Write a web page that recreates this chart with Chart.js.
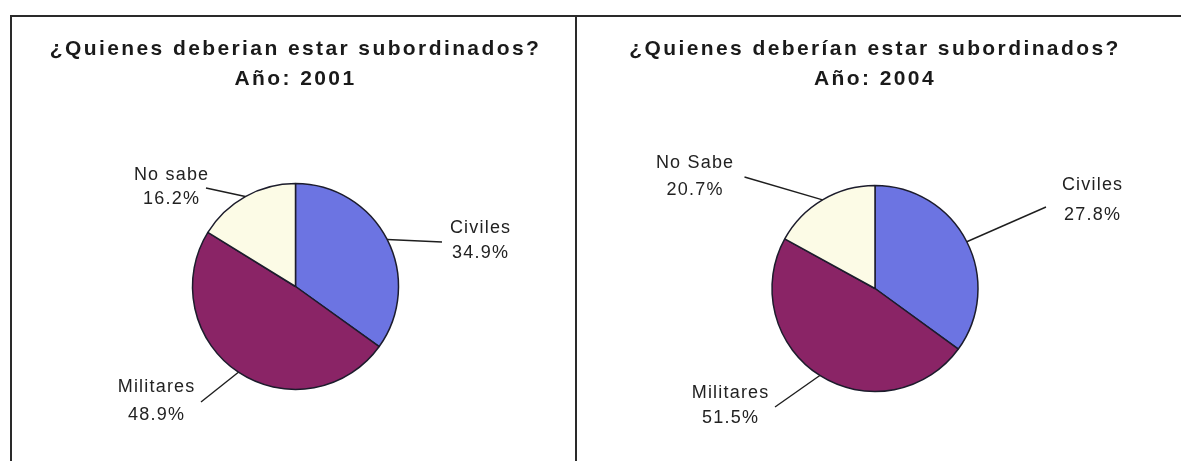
<!DOCTYPE html>
<html>
<head>
<meta charset="utf-8">
<script src="https://cdn.jsdelivr.net/npm/chart.js@4/dist/chart.umd.min.js"></script>
<style>
  html, body { margin: 0; padding: 0; background: #fff; }
  body { width: 1181px; height: 461px; position: relative; overflow: hidden; }
  canvas { position: absolute; top: 0; }
  .rule { position: absolute; background: #2a2a2a; }
</style>
</head>
<body>
<div class="rule" style="left:10px;top:15px;width:1171px;height:2px"></div>
<div class="rule" style="left:10px;top:15px;width:2px;height:446px"></div>
<div class="rule" style="left:575px;top:15px;width:2px;height:446px"></div>
<canvas id="c2001" width="561" height="461" style="left:15px"></canvas>
<canvas id="c2004" width="560" height="461" style="left:595px"></canvas>
<script>
// data
const names2001 = ["Civiles", "Militares", "No sabe"];
const names2004 = ["Civiles", "Militares", "No Sabe"];
const pct2001 = [34.9, 48.9, 16.2];
const pct2004 = [27.8, 51.5, 20.7];
// the 2004 pie in the source is drawn with about the same wedges as 2001,
// not with its printed percentages, so keep the drawn shares separately
const shares2004 = [35, 48, 17];

const colors = ["#6c74e2", "#8a2466", "#fcfbe6"];
const fontFamily = "'Liberation Sans', Arial, Helvetica, sans-serif";

// callout placement, offsets from the pie centre: text [x, y line1, y line2], line end [x, y]
const callouts2001 = [
  { text: [184.5, -58.5, -33.5], line: [146.5, -44.5] },
  { text: [-139.5, 100.5, 128.5], line: [-94.5, 115.5] },
  { text: [-124.5, -111.5, -87.5], line: [-89.5, -98.5] },
];
const callouts2004 = [
  { text: [217, -103.5, -73.5], line: [171, -81.5] },
  { text: [-145, 104.5, 129.5], line: [-100, 118.5] },
  { text: [-180.5, -125.5, -98.5], line: [-130.5, -111.5] },
];

// wide letter spacing on the titles
const spacingPlugin = {
  id: "spacing",
  beforeDraw(chart) {
    chart.ctx.letterSpacing = "2.4px";
  },
  beforeDatasetsDraw(chart) {
    chart.ctx.letterSpacing = "0px";
  },
};

// leader lines + two line labels
const calloutPlugin = {
  id: "callouts",
  afterDatasetsDraw(chart, args, opts) {
    const ctx = chart.ctx;
    const arcs = chart.getDatasetMeta(0).data;
    ctx.save();
    ctx.strokeStyle = "#1e1e1e";
    ctx.lineWidth = 1.4;
    ctx.fillStyle = "#222";
    ctx.font = "18px " + fontFamily;
    ctx.letterSpacing = "1.2px";
    ctx.textAlign = "center";
    ctx.textBaseline = "middle";
    arcs.forEach(function (arc, i) {
      const p = arc.getProps(["x", "y", "startAngle", "endAngle", "outerRadius"], true);
      const mid = (p.startAngle + p.endAngle) / 2;
      const pos = opts.positions[i];
      ctx.beginPath();
      ctx.moveTo(p.x + Math.cos(mid) * p.outerRadius, p.y + Math.sin(mid) * p.outerRadius);
      ctx.lineTo(p.x + pos.line[0], p.y + pos.line[1]);
      ctx.stroke();
      const tx = p.x + pos.text[0] + 0.6;
      ctx.fillText(opts.names[i], tx, p.y + pos.text[1]);
      ctx.fillText(opts.values[i].toFixed(1) + "%", tx, p.y + pos.text[2]);
    });
    ctx.restore();
  },
};

function makePie(id, title, year, names, shares, pct, positions, titleBottom) {
  return new Chart(document.getElementById(id), {
    type: "pie",
    data: {
      labels: names,
      datasets: [
        {
          data: shares,
          backgroundColor: colors,
          borderColor: "#1c1c2c",
          borderWidth: 1.5,
          radius: 103,
        },
      ],
    },
    options: {
      responsive: false,
      animation: false,
      devicePixelRatio: 1,
      events: [],
      plugins: {
        legend: { display: false },
        tooltip: { enabled: false },
        title: {
          display: true,
          text: [title, "Año: " + year],
          color: "#1a1a1a",
          font: { family: fontFamily, size: 21, weight: "bold", lineHeight: "30px" },
          padding: { top: 34.5, bottom: titleBottom },
        },
        callouts: { names: names, values: pct, positions: positions },
      },
    },
    plugins: [spacingPlugin, calloutPlugin],
  });
}

makePie("c2001", "¿Quienes deberian estar subordinados?", 2001,
  names2001, pct2001, pct2001, callouts2001, 17.5);
makePie("c2004", "¿Quienes deberían estar subordinados?", 2004,
  names2004, shares2004, pct2004, callouts2004, 21.5);
</script>
</body>
</html>
